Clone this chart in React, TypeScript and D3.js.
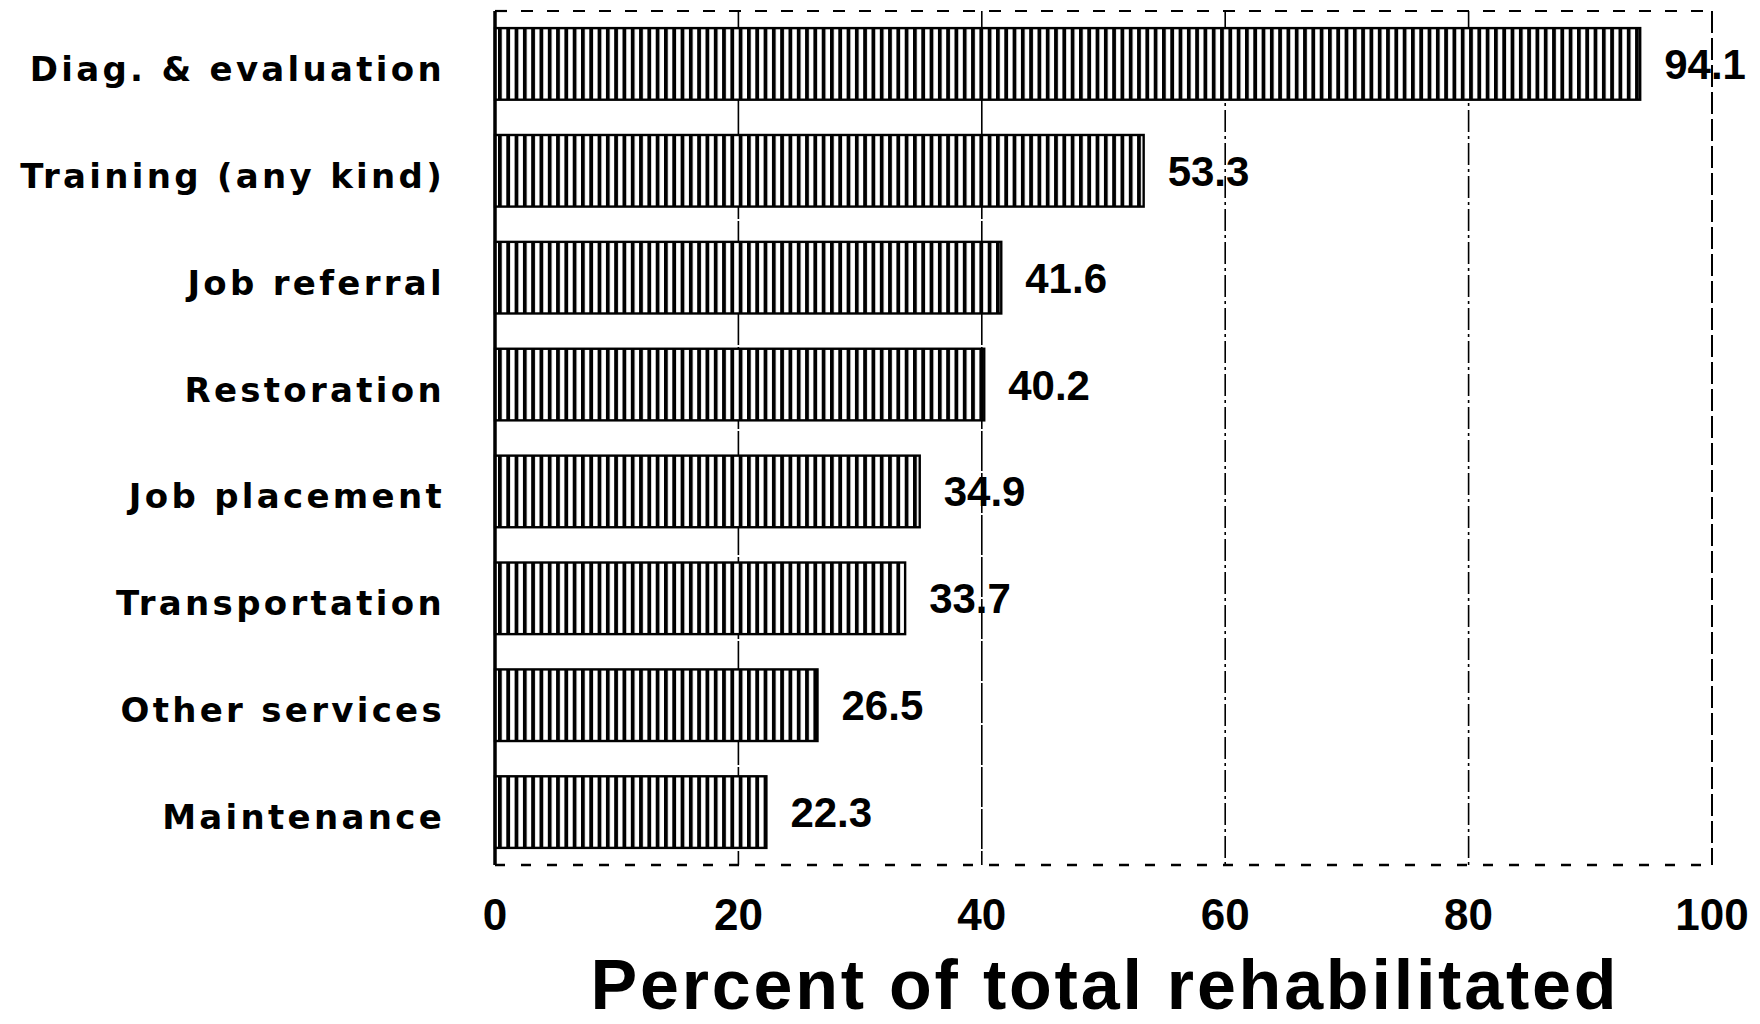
import React from 'react'
import * as d3 from 'd3'

const categories = [
  'Diag. & evaluation',
  'Training (any kind)',
  'Job referral',
  'Restoration',
  'Job placement',
  'Transportation',
  'Other services',
  'Maintenance',
]
const percents = [94.1, 53.3, 41.6, 40.2, 34.9, 33.7, 26.5, 22.3]
const xTicks = [0, 20, 40, 60, 80, 100]
const gridTicks = [20, 40, 60, 80]
const axisTitle = 'Percent of total rehabilitated'

const W = 1760
const H = 1024
const FONT = '"Liberation Sans", Arial, Helvetica, sans-serif'
const LABEL_FONT = '"DejaVu Sans", Verdana, sans-serif'

export default function App() {
  const x = d3.scaleLinear().domain([0, 100]).range([495, 1712])
  const y = d3.scaleBand<string>()
    .domain(categories)
    .range([11, 865])
    .paddingInner(0.33)
    .paddingOuter(0.16)

  const [top, bottom] = y.range()
  const rows = categories.map((c, i) => ({ c, v: percents[i] }))

  return (
    <svg
      width={W}
      height={H}
      viewBox={`0 0 ${W} ${H}`}
      style={{ position: 'absolute', left: 0, top: 0, background: '#fff' }}
    >
      <defs>
        <pattern
          id="stripes"
          patternUnits="userSpaceOnUse"
          width={8.3}
          height={20}
          patternTransform="translate(498,0)"
        >
          <rect x={0} y={0} width={3.8} height={20} fill="#000" />
        </pattern>
      </defs>

      {/* frame: dashed top / bottom / right, solid left axis */}
      <line x1={x(0)} x2={x(100)} y1={top} y2={top}
        stroke="#000" strokeWidth={2.2} strokeDasharray="12 14" />
      <line x1={x(0)} x2={x(100)} y1={bottom} y2={bottom}
        stroke="#000" strokeWidth={2.5} strokeDasharray="10 16" />
      <line x1={x(100)} x2={x(100)} y1={top} y2={bottom}
        stroke="#000" strokeWidth={2} strokeDasharray="22 5" />

      {gridTicks.map((t) => (
        <line key={t} x1={x(t)} x2={x(t)} y1={top} y2={bottom}
          stroke="#000" strokeWidth={1.6}
          strokeDasharray={t >= 60 ? '22 4 3 4' : '40 2'} />
      ))}

      {rows.map(({ c, v }) => {
        const by = y(c) as number
        const bh = y.bandwidth()
        return (
          <g key={c}>
            <rect x={x(0)} y={by} width={x(v) - x(0)} height={bh} fill="#fff" />
            <rect x={x(0)} y={by} width={x(v) - x(0)} height={bh}
              fill="url(#stripes)" stroke="#000" strokeWidth={2.4} />
            <text
              x={x(v) + 24}
              y={by + bh / 2 + 15}
              fontFamily={FONT}
              fontWeight="bold"
              fontSize={42}
              fill="#000"
            >
              {v.toFixed(1)}
            </text>
            <text
              x={445}
              y={by + bh / 2 + 17}
              textAnchor="end"
              fontFamily={LABEL_FONT}
              fontWeight="bold"
              fontSize={34}
              letterSpacing={3.3}
              fill="#000"
            >
              {c}
            </text>
          </g>
        )
      })}

      <line x1={x(0)} x2={x(0)} y1={top} y2={bottom} stroke="#000" strokeWidth={3.5} />

      {xTicks.map((t) => (
        <text
          key={t}
          x={x(t)}
          y={930}
          textAnchor="middle"
          fontFamily={FONT}
          fontWeight="bold"
          fontSize={44}
          fill="#000"
        >
          {t}
        </text>
      ))}

      <text
        x={(x(0) + x(100)) / 2}
        y={1009}
        textAnchor="middle"
        fontFamily={FONT}
        fontWeight="bold"
        fontSize={70}
        textLength={1026}
        lengthAdjust="spacing"
        fill="#000"
      >
        {axisTitle}
      </text>
    </svg>
  )
}
